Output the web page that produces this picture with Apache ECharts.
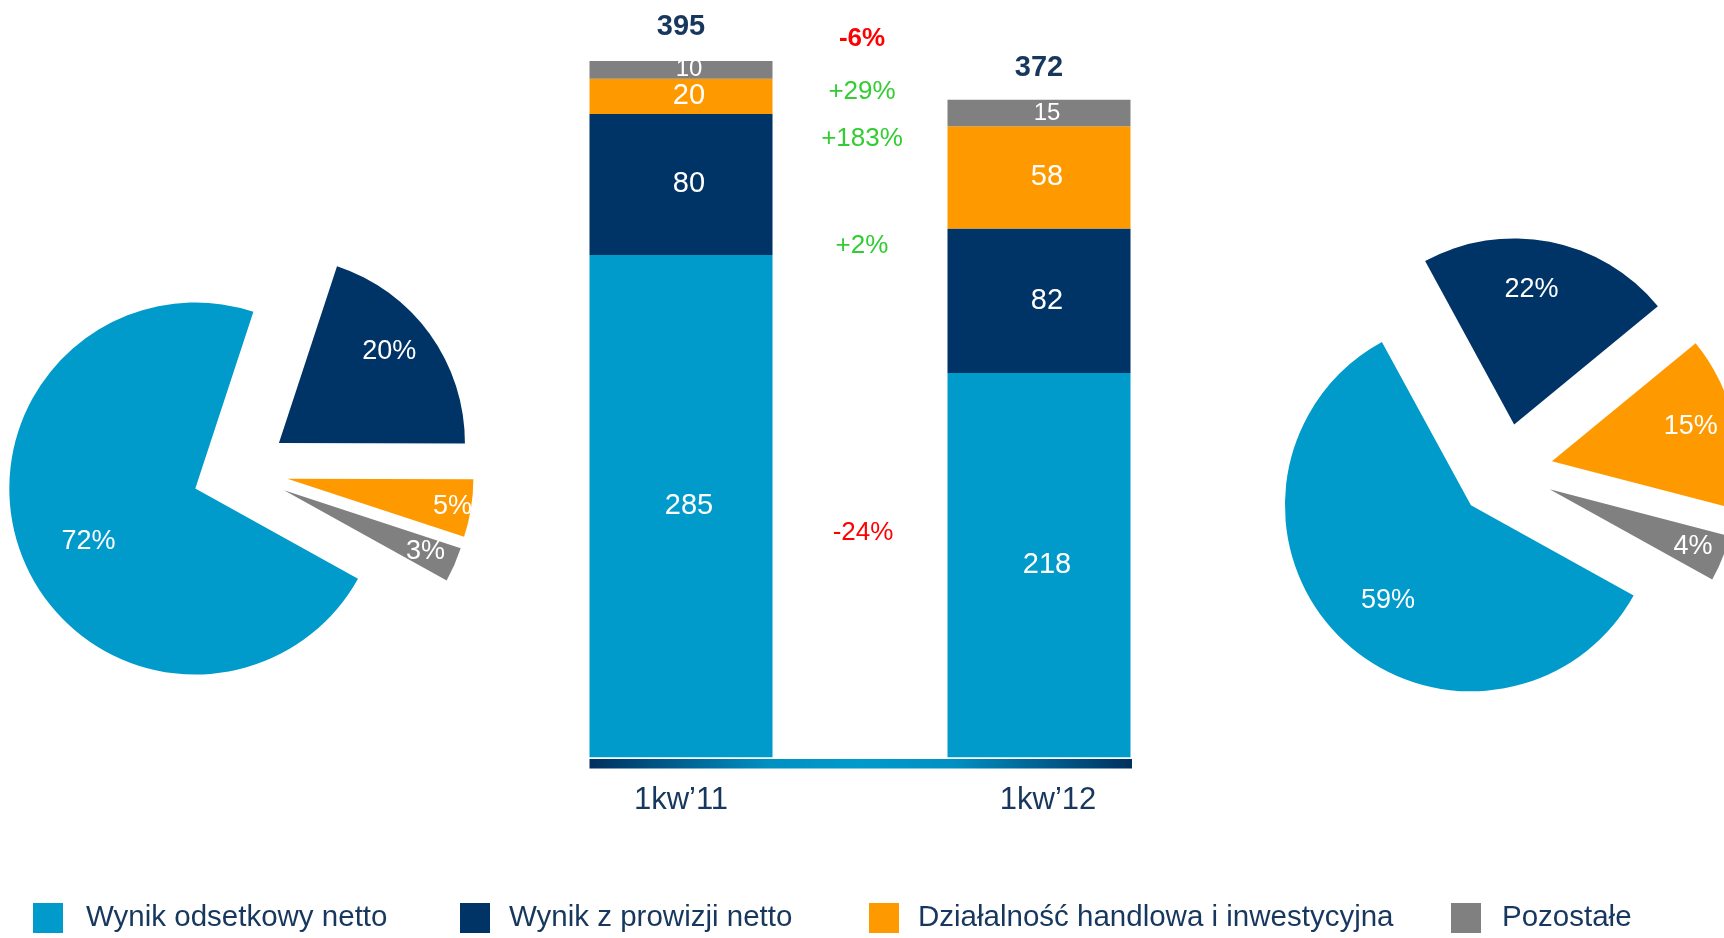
<!DOCTYPE html>
<html>
<head>
<meta charset="utf-8">
<script src="https://cdn.jsdelivr.net/npm/echarts@6/dist/echarts.min.js"></script>
<style>
  html, body { margin: 0; padding: 0; background: #ffffff; }
  #chart { width: 1724px; height: 938px; }
</style>
</head>
<body>
<div id="chart"></div>
<script>
// Revenue structure: 1kw'11 vs 1kw'12 (stacked bars) with share pies on both sides
const seriesNames = ['Wynik odsetkowy netto', 'Wynik z prowizji netto', 'Działalność handlowa i inwestycyjna', 'Pozostałe'];
const quarters = ['1kw\u201911', '1kw\u201912'];
const interest = [285, 218];
const commission = [80, 82];
const trading = [20, 58];
const other = [10, 15];
const totals = [395, 372];
const sharesQ1_11 = [72, 20, 5, 3];
const sharesQ1_12 = [59, 22, 15, 4];
const changes = ['-6%', '+29%', '+183%', '+2%', '-24%'];

// styling
const COLORS = ['#009bcb', '#003366', '#ff9900', '#808080'];
const NAVY_TEXT = '#17375e';
const TOTAL_TEXT = '#17375e';
const GREEN = '#33cc33';
const RED = '#ff0000';
const FONT = "'Liberation Sans', Arial, sans-serif";
const BAR_WIDTH = 183;
const PIE_R = 186;
const PIE_OFFSET = 48;
const PIE_START = 331;
const LEFT_PIE_CENTER = [240, 471];
const RIGHT_PIE_CENTER = [1505, 471.5];
// label placement per slice: [fraction of radius, angular shift in degrees]
const LEFT_LABEL_POLAR = [[0.64, -4.8], [0.77, -3.8], [0.9, 0.5], [0.83, 0]];
const RIGHT_LABEL_POLAR = [[0.68, -4.2], [0.73, -3.7], [0.77, -1.6], [0.83, 0]];
const LEGEND_LEFT = [33, 460, 869, 1451];
const LEGEND_TEXT_PAD = [18, 14, 14, 16];
const CHANGE_POS = [[862, 39, true, RED], [862, 92, false, GREEN], [862, 139, false, GREEN], [862, 246, false, GREEN], [863, 533, false, RED]];

const chart = echarts.init(document.getElementById('chart'), null, { renderer: 'canvas' });

// point on the (exploded) slice bisector for the slice's value label
function pieLabelPoint(values, center, idx, polar) {
  const sum = values.reduce((a, b) => a + b, 0);
  let cum = 0;
  for (let k = 0; k < idx; k++) cum += values[k];
  const midDeg = 90 - PIE_START + (cum + values[idx] / 2) / sum * 360;
  const mid = midDeg * Math.PI / 180;
  const lab = (midDeg + polar[1]) * Math.PI / 180;
  const ax = center[0] + PIE_OFFSET * Math.sin(mid);
  const ay = center[1] - PIE_OFFSET * Math.cos(mid);
  const d = polar[0] * PIE_R;
  return { x: ax + d * Math.sin(lab), y: ay - d * Math.cos(lab) };
}

// exploded slices
function pieSeries(id, values, center) {
  return {
    type: 'pie',
    id: id,
    center: center,
    radius: PIE_R,
    startAngle: PIE_START,
    clockwise: true,
    selectedMode: 'multiple',
    selectedOffset: PIE_OFFSET,
    avoidLabelOverlap: false,
    data: values.map((v, i) => ({
      name: seriesNames[i],
      value: v,
      selected: true,
      itemStyle: { color: COLORS[i] }
    })),
    label: { show: false },
    labelLine: { show: false },
    emphasis: { disabled: true },
    select: { itemStyle: { borderWidth: 0 } },
    z: 2
  };
}

// transparent companion pie carrying the percentage labels
function pieLabelSeries(id, values, center, polar) {
  return {
    type: 'pie',
    id: id,
    center: center,
    radius: PIE_R,
    startAngle: PIE_START,
    clockwise: true,
    silent: true,
    legendHoverLink: false,
    avoidLabelOverlap: false,
    data: values.map((v, i) => ({ name: seriesNames[i], value: v })),
    itemStyle: { color: 'rgba(0,0,0,0)', borderWidth: 0 },
    label: {
      show: true,
      position: 'inside',
      formatter: '{c}%',
      color: '#ffffff',
      fontSize: 27,
      fontFamily: FONT
    },
    labelLine: { show: false },
    labelLayout: function (p) {
      const pt = pieLabelPoint(values, center, p.dataIndex, polar[p.dataIndex]);
      return { x: pt.x, y: pt.y, align: 'center', verticalAlign: 'middle' };
    },
    emphasis: { disabled: true },
    z: 3
  };
}

function barSeries(i, values, fontSize) {
  return {
    type: 'bar',
    name: seriesNames[i],
    stack: 'total',
    barWidth: BAR_WIDTH,
    data: values,
    itemStyle: { color: COLORS[i] },
    label: {
      show: true,
      position: 'inside',
      offset: [8, 0],
      color: '#ffffff',
      fontSize: fontSize,
      fontFamily: FONT
    },
    emphasis: { disabled: true }
  };
}

const option = {
  animation: false,
  backgroundColor: '#ffffff',
  textStyle: { fontFamily: FONT },
  grid: { left: 502, right: 506, top: 52.2, bottom: 180.7, containLabel: false },
  xAxis: {
    type: 'category',
    data: quarters,
    axisLine: { show: false },
    axisTick: { show: false },
    axisLabel: {
      margin: 28,
      color: NAVY_TEXT,
      fontSize: 31,
      fontFamily: FONT,
      formatter: (v, i) => i === 1 ? '{r|' + v + '}' : '{l|' + v + '}',
      rich: {
        l: { fontSize: 31, color: NAVY_TEXT, fontFamily: FONT },
        r: { fontSize: 31, color: NAVY_TEXT, fontFamily: FONT, padding: [0, 0, 0, 18] }
      }
    }
  },
  yAxis: { type: 'value', min: 0, max: 400, show: false },
  legend: seriesNames.map((n, i) => ({
    data: [n],
    left: LEGEND_LEFT[i],
    top: 903,
    padding: 0,
    icon: 'rect',
    itemWidth: 30,
    itemHeight: 30,
    selectedMode: false,
    textStyle: { fontSize: 29.5, color: NAVY_TEXT, fontFamily: FONT, padding: [0, 0, 0, LEGEND_TEXT_PAD[i]] }
  })),
  series: [
    barSeries(0, interest, 29),
    barSeries(1, commission, 29),
    barSeries(2, trading, 29),
    barSeries(3, other, 24),
    {
      type: 'scatter',
      name: 'Razem',
      data: totals,
      symbolSize: 1,
      itemStyle: { color: 'rgba(0,0,0,0)', opacity: 1 },
      label: {
        show: true,
        position: 'top',
        distance: 19,
        formatter: '{c}',
        color: TOTAL_TEXT,
        opacity: 1,
        fontWeight: 'bold',
        fontSize: 29,
        fontFamily: FONT
      },
      emphasis: { disabled: true },
      z: 5
    },
    pieSeries('pieQ1_11', sharesQ1_11, LEFT_PIE_CENTER),
    pieSeries('pieQ1_12', sharesQ1_12, RIGHT_PIE_CENTER),
    pieLabelSeries('pieQ1_11_labels', sharesQ1_11, LEFT_PIE_CENTER, LEFT_LABEL_POLAR),
    pieLabelSeries('pieQ1_12_labels', sharesQ1_12, RIGHT_PIE_CENTER, RIGHT_LABEL_POLAR)
  ]
};

chart.setOption(option);

// baseline band under the bars and year-on-year change notes
const base = chart.convertToPixel({ yAxisIndex: 0 }, 0);
const xa = chart.convertToPixel({ xAxisIndex: 0 }, 0) - BAR_WIDTH / 2;
const xb = chart.convertToPixel({ xAxisIndex: 0 }, 1) + BAR_WIDTH / 2 + 1.5;

const graphics = [{
  type: 'rect',
  shape: { x: xa, y: base + 1.7, width: xb - xa, height: 9.5 },
  style: {
    fill: new echarts.graphic.LinearGradient(0, 0, 1, 0, [
      { offset: 0, color: '#00305f' },
      { offset: 0.33, color: '#0090c2' },
      { offset: 0.5, color: '#009bcb' },
      { offset: 0.67, color: '#0090c2' },
      { offset: 1, color: '#00305f' }
    ])
  },
  silent: true
}];

changes.forEach((t, i) => {
  const p = CHANGE_POS[i];
  graphics.push({
    type: 'text',
    x: p[0],
    y: p[1],
    style: {
      text: t,
      fill: p[3],
      font: (p[2] ? 'bold ' : '') + '26px ' + FONT,
      textAlign: 'center',
      textVerticalAlign: 'middle'
    },
    silent: true
  });
});

chart.setOption({ graphic: graphics });
</script>
</body>
</html>
